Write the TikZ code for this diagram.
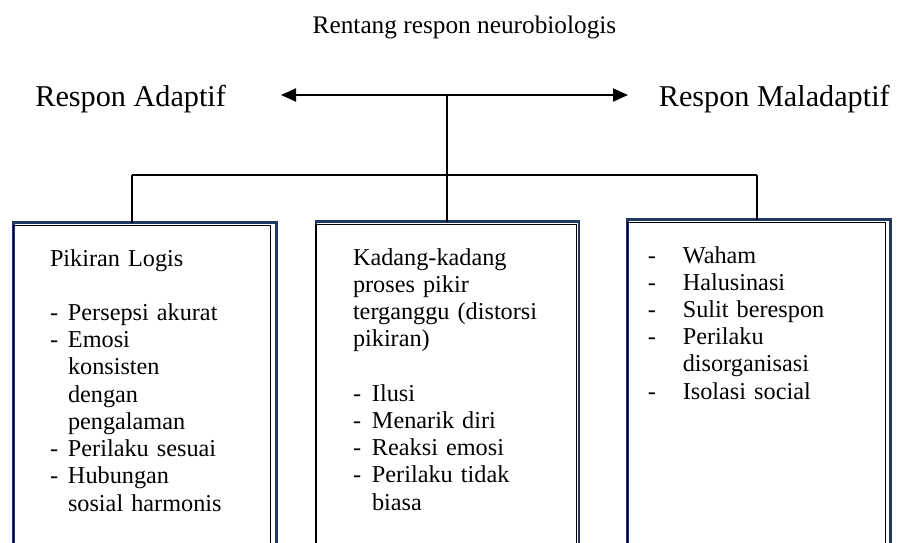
\documentclass[tikz,border=0pt]{standalone}
\usepackage{fontspec}
\setmainfont{Liberation Serif}
\usetikzlibrary{arrows.meta,calc}

\definecolor{bingkai}{HTML}{1F3864}

% butir daftar dengan tanda '-' dan baris lanjutan menjorok
\newcommand{\butir}[2][0.36cm]{\noindent\hangindent=#1\hangafter=1\makebox[#1][l]{-}#2\par}

\tikzset{
  judul/.style={inner sep=0pt, font=\fontsize{14.4}{17}\selectfont},
  kutub/.style={inner sep=0pt, font=\fontsize{17.2}{20}\selectfont},
  kotak/.style={draw=bingkai, line width=1.6pt, anchor=north west, outer sep=0pt,
    inner xsep=0pt, inner ysep=0pt, text width=5.26cm,
    text height=0.87cm, text depth=8cm, font=\fontsize{13.8}{15.5}\selectfont},
  garis/.style={line width=1.4pt},
  panah/.style={line width=1.1pt, {Triangle[length=0.3cm,width=0.26cm]}-{Triangle[length=0.3cm,width=0.26cm]}}
}

\begin{document}
\begin{tikzpicture}
    \useasboundingbox (0,0) rectangle (18.02,-10.84);
    \clip (0,0) rectangle (18.02,-10.84);

    \node[judul, anchor=base] (judul) at (9.29,-0.666) {Rentang respon neurobiologis};

    \node[kutub, anchor=base west] (adaptif) at (0.70,-2.134) {Respon Adaptif};
    \node[kutub, anchor=base west] (maladaptif) at (13.17,-2.134) {Respon Maladaptif};

    \coordinate (ujungkiri) at (5.62,-1.90);
    \coordinate (ujungkanan) at (12.56,-1.90);
    \coordinate (tengah) at (8.94,-1.90);
    \coordinate (buskiri) at (2.64,-3.50);
    \coordinate (pusat) at (8.94,-3.50);
    \coordinate (buskanan) at (15.14,-3.50);

    \node[kotak] (logis) at (0.27,-4.45) {\raggedright\leftskip=0.73cm
        \noindent Pikiran Logis\\[\baselineskip]
        \butir{Persepsi akurat}
        \butir{Emosi\newline konsisten\newline dengan\newline pengalaman}
        \butir{Perilaku sesuai}
        \butir{Hubungan\newline sosial harmonis}};

    \node[kotak] (distorsi) at (6.32,-4.43) {\raggedright\leftskip=0.74cm
        \noindent Kadang-kadang\\ proses pikir\\ terganggu (distorsi\\ pikiran)\\[\baselineskip]
        \butir[0.38cm]{Ilusi}
        \butir[0.38cm]{Menarik diri}
        \butir[0.38cm]{Reaksi emosi}
        \butir[0.38cm]{Perilaku tidak\newline biasa}};

    \node[kotak] (maladaptifbox) at (12.546,-4.39) {\raggedright\leftskip=0.41cm
        \butir[0.70cm]{Waham}
        \butir[0.70cm]{Halusinasi}
        \butir[0.70cm]{Sulit berespon}
        \butir[0.70cm]{Perilaku\newline disorganisasi}
        \butir[0.70cm]{Isolasi social}};

    % garis dalam tiap kotak
    \foreach \b/\dx in {logis/0.12, distorsi/0.05, maladaptifbox/0.10}
        \draw[line width=0.6pt] ($(\b.north west)+(0,-0.06)$) rectangle ($(\b.south east)+(-\dx,0)$);

    \draw[panah] (ujungkiri) -- (ujungkanan);
    \draw[garis] (tengah) -- (pusat);
    \draw[garis] (buskiri) -- (buskanan);
    \draw[garis] (buskiri) -- (logis.north -| buskiri);
    \draw[garis] (pusat) -- (distorsi.north -| pusat);
    \draw[garis] (buskanan) -- (maladaptifbox.north -| buskanan);
\end{tikzpicture}
\end{document}
